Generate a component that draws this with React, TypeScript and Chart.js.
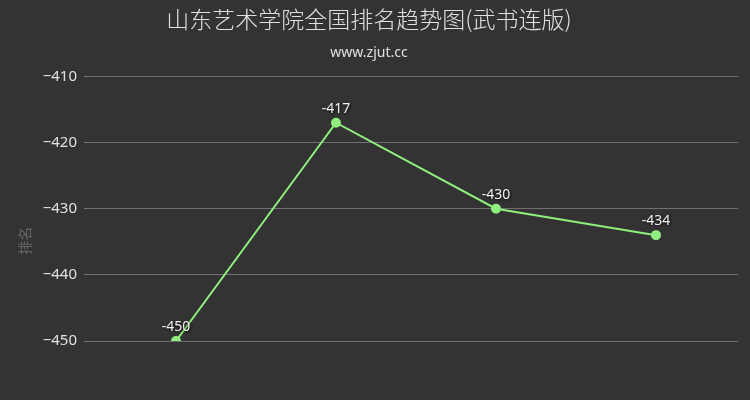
import React, { useEffect, useRef } from "react";
import { Chart, registerables } from "chart.js";

Chart.register(...registerables);

const years = ["2015", "2016", "2017", "2018"];
const ranks = [-450, -417, -430, -434];
const yTicks = [-450, -440, -430, -420, -410];
const yTitle = "排名";

const pointLabels = {
  id: "pointLabels",
  afterDatasetsDraw(chart: any) {
    const ctx = chart.ctx;
    const meta = chart.getDatasetMeta(0);
    ctx.save();
    ctx.font = "14px 'Noto Sans', sans-serif";
    ctx.textAlign = "center";
    ctx.textBaseline = "middle";
    meta.data.forEach((pt: any, i: number) => {
      const txt = String(ranks[i]);
      ctx.shadowColor = "rgba(0,0,0,0.9)";
      ctx.shadowBlur = 3;
      ctx.shadowOffsetX = 1;
      ctx.shadowOffsetY = 1;
      ctx.fillStyle = "#f0f0f0";
      ctx.fillText(txt, pt.x, pt.y - 14);
    });
    ctx.restore();
  },
};

// axis title sits a bit below the plot's middle, as in the original
const axisTitle = {
  id: "axisTitle",
  afterDraw(chart: any) {
    const ctx = chart.ctx;
    const area = chart.chartArea;
    ctx.save();
    ctx.translate(25, (area.top + area.bottom) / 2 + 32);
    ctx.rotate(-Math.PI / 2);
    ctx.font = "14px 'Noto Sans CJK SC', sans-serif";
    ctx.fillStyle = "#666666";
    ctx.textAlign = "center";
    ctx.textBaseline = "middle";
    ctx.fillText(yTitle, 0, 0);
    ctx.restore();
  },
};

const App: React.FC = () => {
  const canvasRef = useRef<HTMLCanvasElement | null>(null);
  const chartRef = useRef<Chart | null>(null);

  useEffect(() => {
    document.body.style.margin = "0";
    if (!canvasRef.current) return;
    if (chartRef.current) chartRef.current.destroy();
    const ctx = canvasRef.current.getContext("2d");
    if (!ctx) return;
    chartRef.current = new Chart(ctx, {
      type: "line",
      data: {
        datasets: [
          {
            label: yTitle,
            data: ranks.map((v, i) => ({ x: i, y: v, year: years[i] })),
            borderColor: "#90ee7e",
            backgroundColor: "#90ee7e",
            borderWidth: 2,
            pointRadius: 4,
            pointHoverRadius: 4,
            tension: 0,
          },
        ],
      },
      options: {
        responsive: false,
        animation: false,
        layout: { padding: { left: 0, right: 12, top: 0, bottom: 59 } },
        plugins: {
          legend: { display: false },
          tooltip: { enabled: false },
          title: {
            display: true,
            text: "山东艺术学院全国排名趋势图(武书连版)",
            color: "#e0e0e3",
            font: { family: "'Noto Sans CJK SC', sans-serif", size: 23, weight: 300 },
            padding: { top: 5, bottom: 12 },
          },
          subtitle: {
            display: true,
            text: "www.zjut.cc",
            color: "#e0e0e3",
            font: { family: "'Noto Sans', sans-serif", size: 14 },
            padding: { top: 0, bottom: 15 },
          },
        },
        scales: {
          x: {
            type: "linear",
            min: -0.575,
            max: 3.5125,
            display: false,
          },
          y: {
            min: -450,
            max: -410,
            afterBuildTicks: (axis: any) => {
              axis.ticks = yTicks.map((v) => ({ value: v }));
            },
            afterFit: (axis: any) => {
              axis.width = 84;
            },
            border: { display: false },
            grid: { color: "#707073", lineWidth: 1, drawTicks: false },
            ticks: {
              color: "#e0e0e3",
              padding: 7,
              font: { family: "'Noto Sans', sans-serif", size: 15 },
              callback: (value: any) => String(value).replace("-", "\u2212"),
            },
          },
        },
      },
      plugins: [pointLabels, axisTitle],
    });
    return () => {
      if (chartRef.current) {
        chartRef.current.destroy();
        chartRef.current = null;
      }
    };
  }, []);

  return (
    <div style={{ width: 750, height: 400, background: "#333333" }}>
      <canvas ref={canvasRef} width={750} height={400}></canvas>
    </div>
  );
};

export default App;
